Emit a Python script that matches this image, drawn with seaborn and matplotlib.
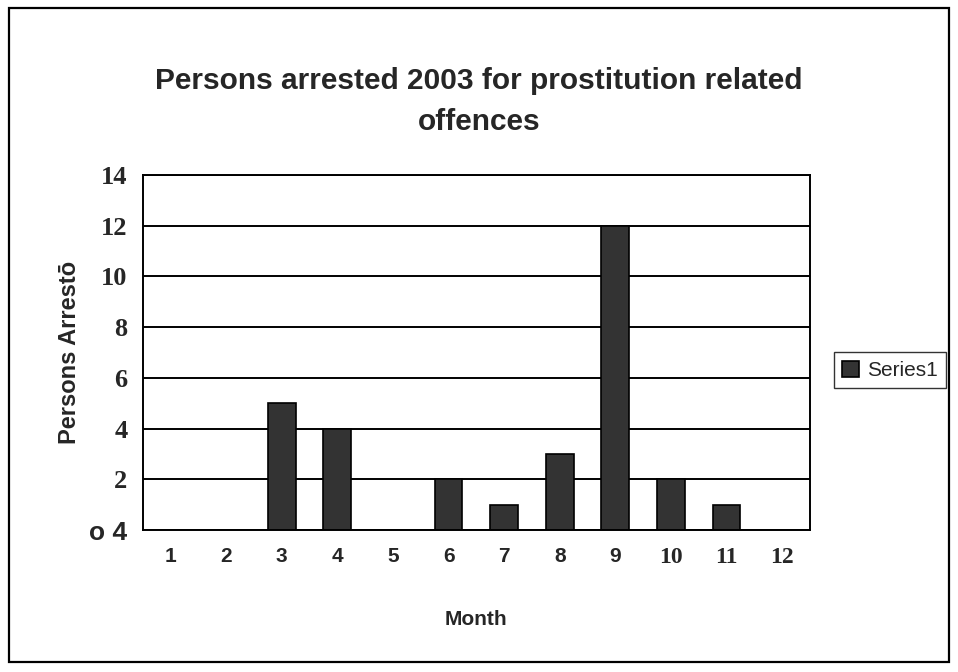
import matplotlib
matplotlib.use('Agg')
import matplotlib.pyplot as plt
import seaborn as sns
import numpy as np
from matplotlib.patches import Rectangle

# data
months = ['1', '2', '3', '4', '5', '6', '7', '8', '9', '10', '11', '12']
arrests = [0, 0, 5, 4, 0, 2, 1, 3, 12, 2, 1, 0]
y_ticks = [0, 2, 4, 6, 8, 10, 12, 14]
y_tick_labels = ['o 4', '2', '4', '6', '8', '10', '12', '14']

sns.set_style('white')
plt.rcParams['font.family'] = ['Liberation Sans', 'DejaVu Sans']

fig = plt.figure(figsize=(9.58, 6.72), dpi=100)
ax = fig.add_axes([0.149, 0.211, 0.6965, 0.5286])

sns.barplot(x=months, y=arrests, color='#333333', edgecolor='black',
            linewidth=1.2, width=0.5, saturation=1, label='Series1', ax=ax)

ax.set_xlim(-0.5, 11.5)
ax.set_ylim(0, 14)
ax.set_yticks(y_ticks)
ax.set_yticklabels(y_tick_labels)
ax.yaxis.grid(True, color='black', linewidth=1.4)
ax.set_axisbelow(True)

# Excel style: y tick marks out, x tick marks between categories
ax.tick_params(axis='y', which='major', direction='out', length=7, width=1.2,
               color='black', pad=4)
ax.tick_params(axis='x', which='major', length=0, pad=12)
ax.set_xticks(np.arange(-0.5, 12, 1), minor=True)
ax.tick_params(axis='x', which='minor', direction='out', length=7, width=1.2,
               color='black')

for lbl in ax.get_yticklabels():
    if lbl.get_text() == 'o 4':
        lbl.set_fontfamily('Liberation Sans')
    else:
        lbl.set_fontfamily('Liberation Serif')
    lbl.set_fontsize(19)
    lbl.set_fontweight('bold')

for lbl in ax.get_xticklabels():
    if len(lbl.get_text()) > 1:
        lbl.set_fontfamily('Liberation Serif')
        lbl.set_fontsize(17)
    else:
        lbl.set_fontfamily('Liberation Sans')
        lbl.set_fontsize(15)
    lbl.set_fontweight('bold')

for side in ['left', 'bottom', 'right', 'top']:
    ax.spines[side].set_visible(True)
    ax.spines[side].set_color('black')
    ax.spines[side].set_linewidth(1.4)

ax.set_xlabel('Month', fontsize=15, fontweight='bold', labelpad=30)
ax.set_ylabel('Persons Arrestō', fontsize=17, fontweight='bold', labelpad=6)

fig.text(0.5, 0.849, 'Persons arrested 2003 for prostitution related\noffences',
         ha='center', va='center', fontsize=21.5, fontweight='bold',
         linespacing=1.55)

leg = ax.legend(loc='center left', bbox_to_anchor=(1.02, 0.45), fontsize=15,
                frameon=True, fancybox=False, edgecolor='black',
                handlelength=0.8, handleheight=0.8, handletextpad=0.4,
                borderpad=0.4)
leg.get_frame().set_linewidth(1.0)

# outer chart border
fig.patches.append(Rectangle((0.009, 0.015), 0.982, 0.973, transform=fig.transFigure,
                             fill=False, edgecolor='black', linewidth=1.6))

plt.savefig('out.png', dpi=100)
